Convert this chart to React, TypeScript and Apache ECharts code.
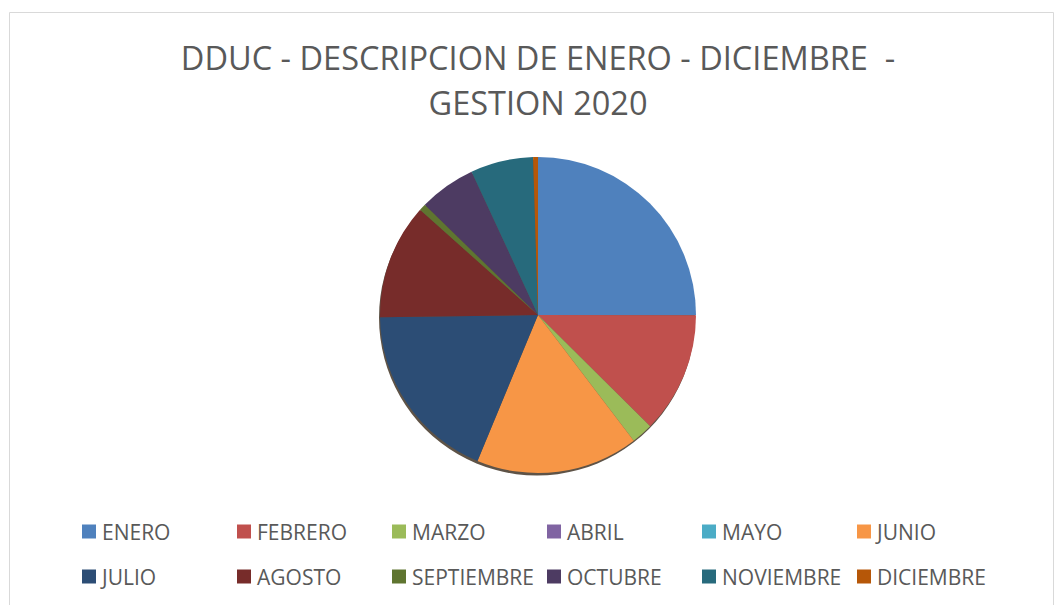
import React, { useEffect, useRef } from "react";
import * as echarts from "echarts";

const months = [
  "ENERO", "FEBRERO", "MARZO", "ABRIL", "MAYO", "JUNIO",
  "JULIO", "AGOSTO", "SEPTIEMBRE", "OCTUBRE", "NOVIEMBRE", "DICIEMBRE",
];
const values = [25, 12.4, 2.2, 0, 0, 16.6, 18.5, 11.8, 0.7, 5.8, 6.4, 0.5];
const colors = [
  "#4F81BD", "#C0504D", "#9BBB59", "#8064A2", "#4BACC6", "#F79646",
  "#2C4D75", "#772C2A", "#5F7530", "#4D3B62", "#276A7C", "#B65708",
];
const titleText = "DDUC - DESCRIPCION DE ENERO - DICIEMBRE  -\nGESTION 2020";

export default function App() {
  const ref = useRef<HTMLDivElement>(null);
  useEffect(() => {
    if (!ref.current) return;
    const chart = echarts.init(ref.current, null, { renderer: "svg" });
    const font = "'Open Sans', 'Noto Sans', sans-serif";
    chart.setOption({
      animation: false,
      color: colors,
      title: {
        text: titleText,
        left: 533,
        textAlign: "center",
        top: 30,
        padding: 5,
        textStyle: {
          fontFamily: font,
          fontSize: 32.5,
          fontWeight: "normal",
          color: "#595959",
          lineHeight: 45,
        },
      },
      legend: {
        left: 82,
        top: 509,
        width: 940,
        padding: 0,
        itemWidth: 14,
        itemHeight: 14,
        itemGap: 0,
        icon: "rect",
        textStyle: {
          fontFamily: font,
          fontSize: 21,
          color: "#595959",
          width: 135,
          lineHeight: 45,
          padding: [0, 0, 0, 1],
        },
        data: months,
      },
      graphic: [
        {
          type: "rect",
          z: -10,
          shape: { x: 9.5, y: 12.5, width: 1044, height: 610 },
          style: { fill: "none", stroke: "#d9d9d9", lineWidth: 1 },
        },
        {
          type: "circle",
          z: -5,
          shape: { cx: 537, cy: 317.5, r: 158 },
          style: { fill: "rgba(40,25,10,0.75)" },
        },
      ],
      series: [
        {
          type: "pie",
          center: [538, 315],
          radius: 158,
          startAngle: 90,
          clockwise: true,
          label: { show: false },
          labelLine: { show: false },
          emphasis: { disabled: true },
          itemStyle: { borderWidth: 0 },
          data: months.map((m, i) => ({ name: m, value: values[i] })),
        },
      ],
    });
    return () => chart.dispose();
  }, []);
  return (
    <div
      ref={ref}
      style={{ position: "fixed", left: 0, top: 0, width: 1055, height: 605, background: "#fff" }}
    />
  );
}
